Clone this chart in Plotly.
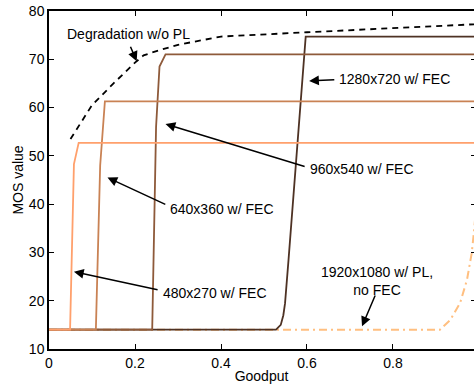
import plotly.graph_objects as go

# ---- data ----
deg_x = [0.05, 0.1, 0.15, 0.2, 0.22, 0.25, 0.3, 0.4, 0.6, 1.0]
deg_y = [53.5, 60.5, 65.0, 69.3, 70.8, 71.7, 73.0, 74.7, 75.6, 77.3]

r480_x = [0, 0.049, 0.058, 0.069, 1.0]
r480_y = [14, 14, 48.3, 52.7, 52.7]

r640_x = [0, 0.109, 0.119, 0.130, 1.0]
r640_y = [14, 14, 48.0, 61.3, 61.3]

r960_x = [0, 0.240, 0.249, 0.257, 0.271, 1.0]
r960_y = [14, 14, 56.0, 68.5, 71.0, 71.0]

r1280_x = [0, 0.528, 0.539, 0.545, 0.549, 0.553, 0.557, 0.597, 1.0]
r1280_y = [14, 14, 15.0, 17.0, 19.5, 24.3, 28.4, 74.7, 74.7]

r1920_x = [0, 0.909, 0.933, 0.956, 0.972, 0.983, 0.988, 1.0]
r1920_y = [14, 14, 16.0, 19.5, 24.3, 29.8, 34.0, 46.0]

x_ticks = [0, 0.2, 0.4, 0.6, 0.8, 1.0]
y_ticks = [10, 20, 30, 40, 50, 60, 70, 80]

FONT = "Arial, Liberation Sans, Helvetica, sans-serif"

fig = go.Figure()

fig.add_trace(go.Scatter(x=r1920_x, y=r1920_y, mode="lines",
                         line=dict(color="#FFBF80", width=2, dash="8px,4px,2px,4px")))
fig.add_trace(go.Scatter(x=r1280_x, y=r1280_y, mode="lines",
                         line=dict(color="#4E3224", width=1.8)))
fig.add_trace(go.Scatter(x=r960_x, y=r960_y, mode="lines",
                         line=dict(color="#8E5A3A", width=1.8)))
fig.add_trace(go.Scatter(x=r640_x, y=r640_y, mode="lines",
                         line=dict(color="#C98254", width=1.8)))
fig.add_trace(go.Scatter(x=r480_x, y=r480_y, mode="lines",
                         line=dict(color="#FFA06C", width=1.8)))
fig.add_trace(go.Scatter(x=deg_x, y=deg_y, mode="lines",
                         line=dict(color="black", width=1.8, dash="6px,5px")))

# dummy trace to activate right-side tick axis
fig.add_trace(go.Scatter(x=[None], y=[None], yaxis="y2", showlegend=False))

# arrows (tail -> head in data coordinates)
arrows = [
    ((0.188, 72.9), (0.204, 69.6)),
    ((0.667, 65.8), (0.605, 65.5)),
    ((0.598, 47.7), (0.271, 56.6)),
    ((0.274, 39.8), (0.136, 45.5)),
    ((0.256, 22.2), (0.058, 26.0)),
    ((0.760, 21.4), (0.728, 14.7)),
]
for (tx, ty), (hx, hy) in arrows:
    fig.add_annotation(x=hx, y=hy, ax=tx, ay=ty, axref="x", ayref="y",
                       xref="x", yref="y", text="", showarrow=True,
                       arrowhead=2, arrowsize=1.3, arrowwidth=1.5,
                       arrowcolor="black", standoff=0, startstandoff=0)

labels = [
    ("Degradation w/o PL", 0.185, 75.2, "center"),
    ("1280x720 w/ FEC", 0.670, 65.9, "left"),
    ("960x540 w/ FEC", 0.602, 47.2, "left"),
    ("640x360 w/ FEC", 0.277, 39.0, "left"),
    ("480x270 w/ FEC", 0.260, 21.7, "left"),
    ("1920x1080 w/ PL,<br>no FEC", 0.763, 24.1, "center"),
]
for txt, x, y, anc in labels:
    fig.add_annotation(x=x, y=y, xref="x", yref="y", text=txt, showarrow=False,
                       xanchor=anc, yanchor="middle",
                       font=dict(family=FONT, size=14, color="black"))

fig.update_layout(
    width=474, height=384,
    margin=dict(l=49, r=0, t=11, b=35),
    paper_bgcolor="white", plot_bgcolor="white",
    showlegend=False,
    font=dict(family=FONT, size=14, color="black"),
    xaxis=dict(range=[0, 0.9884], tickvals=x_ticks, ticktext=["0", "0.2", "0.4", "0.6", "0.8", "1"],
               ticks="inside", ticklen=5, tickwidth=1.2, tickcolor="black",
               showline=True, linecolor="black", linewidth=1.5, mirror="ticks",
               showgrid=False, zeroline=False,
               title=dict(text="Goodput", standoff=2, font=dict(size=14))),
    yaxis=dict(range=[10, 80], tickvals=y_ticks,
               ticks="inside", ticklen=5, tickwidth=1.2, tickcolor="black",
               showline=True, linecolor="black", linewidth=1.5, mirror=False,
               showgrid=False, zeroline=False,
               title=dict(text="MOS value", standoff=2, font=dict(size=14))),
    yaxis2=dict(range=[10, 80], tickvals=y_ticks, overlaying="y", side="right",
                ticks="inside", ticklen=3, tickwidth=1.2, tickcolor="black",
                showline=False, showticklabels=False, showgrid=False, zeroline=False),
)

fig.write_html(
    "out.html",
    config={"displayModeBar": False},
    post_script=("document.body.style.margin='0';"
                 "document.body.style.overflow='hidden';"
                 "document.documentElement.style.overflow='hidden';"),
)
